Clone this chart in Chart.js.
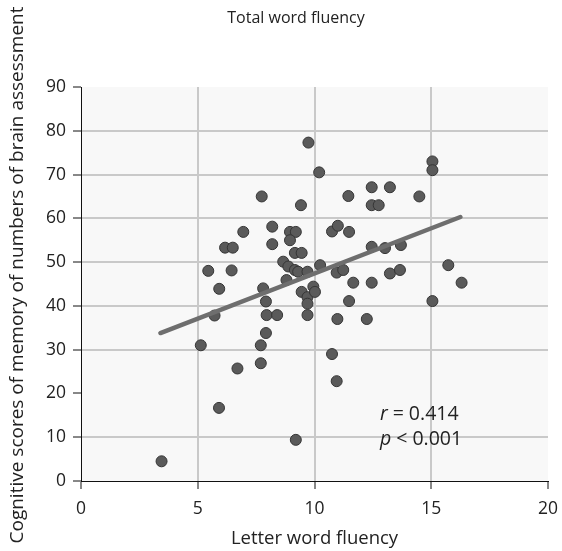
<!DOCTYPE html>
<html>
<head>
<meta charset="utf-8">
<script src="https://cdn.jsdelivr.net/npm/chart.js@4.4.0/dist/chart.umd.min.js"></script>
<style>
  html, body { margin: 0; padding: 0; background: #fff; }
  canvas { display: block; }
</style>
</head>
<body>
<canvas id="chart" width="562" height="551"></canvas>
<script>
// Letter word fluency (x) vs memory-of-numbers score (y)
const letterFluency = [
  3.45, 5.13, 5.45, 5.72, 5.92, 5.91, 6.17, 6.5, 6.45, 6.7,
  6.95, 7.7, 7.7, 7.74, 7.8, 7.92, 7.92, 7.95, 8.4, 8.19,
  8.19, 8.66, 8.8, 8.88, 8.95, 9.2, 8.95, 9.16, 9.3, 9.16,
  9.45, 9.2, 9.42, 9.45, 9.7, 9.7, 9.7, 9.7, 9.74, 9.95,
  10.02, 10.2, 10.24, 10.75, 11.0, 10.75, 10.95, 10.98, 10.95, 11.23,
  11.45, 11.48, 11.48, 11.66, 12.24, 12.45, 12.45, 12.75, 12.45, 12.45,
  13.02, 13.23, 13.23, 13.66, 13.7, 14.49, 15.05, 15.05, 15.05, 15.73,
  16.3
];
const memoryScores = [
  4.5, 31.0, 48.0, 37.8, 43.9, 16.7, 53.3, 53.3, 48.1, 25.7,
  56.9, 31.0, 26.9, 65.0, 44.0, 41.0, 33.8, 37.9, 37.9, 58.1,
  54.1, 50.1, 45.9, 49.0, 56.9, 56.9, 55.0, 48.2, 47.8, 52.1,
  52.1, 9.4, 63.0, 43.2, 47.8, 42.0, 40.5, 37.9, 77.3, 44.4,
  43.2, 70.5, 49.3, 57.0, 58.3, 29.0, 22.8, 37.0, 47.6, 48.2,
  65.1, 56.9, 41.1, 45.3, 37.0, 67.1, 63.0, 63.0, 53.5, 45.3,
  53.2, 67.1, 47.4, 48.2, 53.9, 65.0, 73.0, 71.0, 41.1, 49.3,
  45.3
];
// fitted line end points
const fitX = [3.4, 16.25];
const fitY = [33.8, 60.3];

const xTicks = [0, 5, 10, 15, 20];
const yTicks = [0, 10, 20, 30, 40, 50, 60, 70, 80, 90];

const chartTitle = 'Total word fluency';
const xTitle = 'Letter word fluency';
const yTitle = 'Cognitive scores of memory of numbers of brain assessment';
const statLabels = [['r', ' = 0.414'], ['p', ' < 0.001']];

const FONT = '"Open Sans", "Noto Sans", sans-serif';
const TEXT = '#222';

const plotBackground = {
  id: 'plotBackground',
  beforeDraw(chart) {
    const { ctx, chartArea } = chart;
    ctx.save();
    ctx.fillStyle = '#f8f8f8';
    ctx.fillRect(chartArea.left, chartArea.top, chartArea.right - chartArea.left, chartArea.bottom - chartArea.top);
    ctx.restore();
  }
};

const extraText = {
  id: 'extraText',
  afterDraw(chart) {
    const { ctx, scales } = chart;
    ctx.save();
    ctx.fillStyle = TEXT;
    ctx.textAlign = 'center';
    ctx.textBaseline = 'middle';
    // chart title
    ctx.font = '16px ' + FONT;
    ctx.fillText(chartTitle, 296, 18);
    // y axis title
    ctx.translate(18, 275);
    ctx.rotate(-Math.PI / 2);
    ctx.font = '19px ' + FONT;
    ctx.fillText(yTitle, 0, 0);
    ctx.restore();

    // r / p annotation
    ctx.save();
    ctx.fillStyle = TEXT;
    ctx.textBaseline = 'middle';
    ctx.textAlign = 'left';
    const x0 = scales.x.getPixelForValue(12.8);
    const ys = [15.1, 9.6];
    statLabels.forEach((parts, i) => {
      const y = scales.y.getPixelForValue(ys[i]);
      ctx.font = 'italic 19.5px ' + FONT;
      ctx.fillText(parts[0], x0, y);
      const w = ctx.measureText(parts[0]).width;
      ctx.font = '19.5px ' + FONT;
      ctx.fillText(parts[1], x0 + w, y);
    });
    ctx.restore();
  }
};

const gridColor = (ctx) => {
  const v = ctx.tick && ctx.tick.value;
  return (v === 0 || v === 90 || v === 20) ? 'rgba(0,0,0,0)' : '#c9c9c9';
};

new Chart(document.getElementById('chart'), {
  data: {
    datasets: [
      {
        type: 'line',
        data: fitX.map((x, i) => ({ x, y: fitY[i] })),
        borderColor: '#6e6e6e',
        borderWidth: 4.5,
        borderCapStyle: 'round',
        pointRadius: 0,
        fill: false,
        order: 0
      },
      {
        type: 'scatter',
        data: letterFluency.map((x, i) => ({ x, y: memoryScores[i] })),
        backgroundColor: '#5a5a5a',
        borderColor: '#363636',
        borderWidth: 1,
        pointRadius: 5.5,
        order: 1
      }
    ]
  },
  options: {
    responsive: false,
    animation: false,
    layout: { padding: { left: 0, right: 14, top: 87, bottom: 0 } },
    plugins: {
      legend: { display: false },
      tooltip: { enabled: false },
      title: { display: false }
    },
    scales: {
      x: {
        type: 'linear',
        min: 0,
        max: 20,
        afterBuildTicks: (scale) => { scale.ticks = xTicks.map(v => ({ value: v })); },
        afterFit: (scale) => {
          scale.height = 70;
          scale.paddingLeft = 0;
          scale.paddingRight = 0;
        },
        border: { color: '#111', width: 1 },
        grid: { color: gridColor, lineWidth: 2, tickColor: '#111', tickWidth: 1, tickLength: 8 },
        ticks: { color: TEXT, padding: 10, maxRotation: 0, font: { family: FONT, size: 17.5 } },
        title: {
          display: true,
          text: xTitle,
          color: TEXT,
          font: { family: FONT, size: 18.5 },
          padding: { top: 0, bottom: 1 }
        }
      },
      y: {
        type: 'linear',
        min: 0,
        max: 90,
        afterBuildTicks: (scale) => { scale.ticks = yTicks.map(v => ({ value: v })); },
        afterFit: (scale) => { scale.width = 81; },
        border: { color: '#111', width: 1 },
        grid: { color: gridColor, lineWidth: 2, tickColor: '#111', tickWidth: 1, tickLength: 8 },
        ticks: { color: TEXT, padding: 7, font: { family: FONT, size: 17.5 } }
      }
    }
  },
  plugins: [plotBackground, extraText]
});
</script>
</body>
</html>
